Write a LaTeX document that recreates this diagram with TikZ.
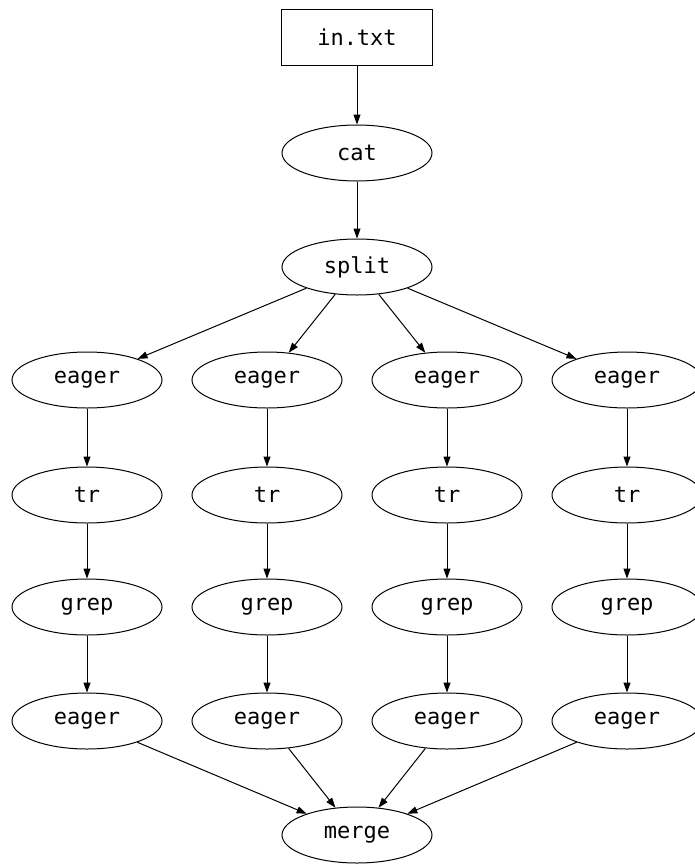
\documentclass[tikz,border=0pt]{standalone}
\usepackage{fontspec}
\setmonofont{DejaVu Sans Mono}
\usetikzlibrary{shapes.geometric,arrows.meta}
\begin{document}
\begin{tikzpicture}[x=1pt,y=-1pt,
  every node/.style={font=\ttfamily\fontsize{22}{25}\selectfont, inner sep=0pt},
  proc/.style={ellipse, draw, line width=1pt, minimum width=150pt, minimum height=56pt},
  file/.style={rectangle, draw, line width=1pt, minimum width=151pt, minimum height=56pt},
  edge/.style={line width=1pt, -{Triangle[length=10pt,width=7pt]}}]
\useasboundingbox (0,0) rectangle (694,865);
% source file and front of the pipeline
\node[file] (in) at (357,37) {in.txt};
\node[proc] (cat) at (357,153) {cat};
\node[proc] (split) at (357,267) {split};
% four parallel branches
\foreach \i/\x in {1/87,2/267,3/447,4/627}{
  \node[proc] (ea\i) at (\x,380) {eager};
  \node[proc] (tr\i) at (\x,495) {tr};
  \node[proc] (gr\i) at (\x,607) {grep};
  \node[proc] (eb\i) at (\x,721) {eager};
}
\node[proc] (merge) at (357,835) {merge};
% connectors
\draw[edge] (in) -- (cat);
\draw[edge] (cat) -- (split);
\foreach \i in {1,2,3,4}{
  \draw[edge] (split) -- (ea\i);
  \draw[edge] (ea\i) -- (tr\i);
  \draw[edge] (tr\i) -- (gr\i);
  \draw[edge] (gr\i) -- (eb\i);
  \draw[edge] (eb\i) -- (merge);
}
\end{tikzpicture}
\end{document}
